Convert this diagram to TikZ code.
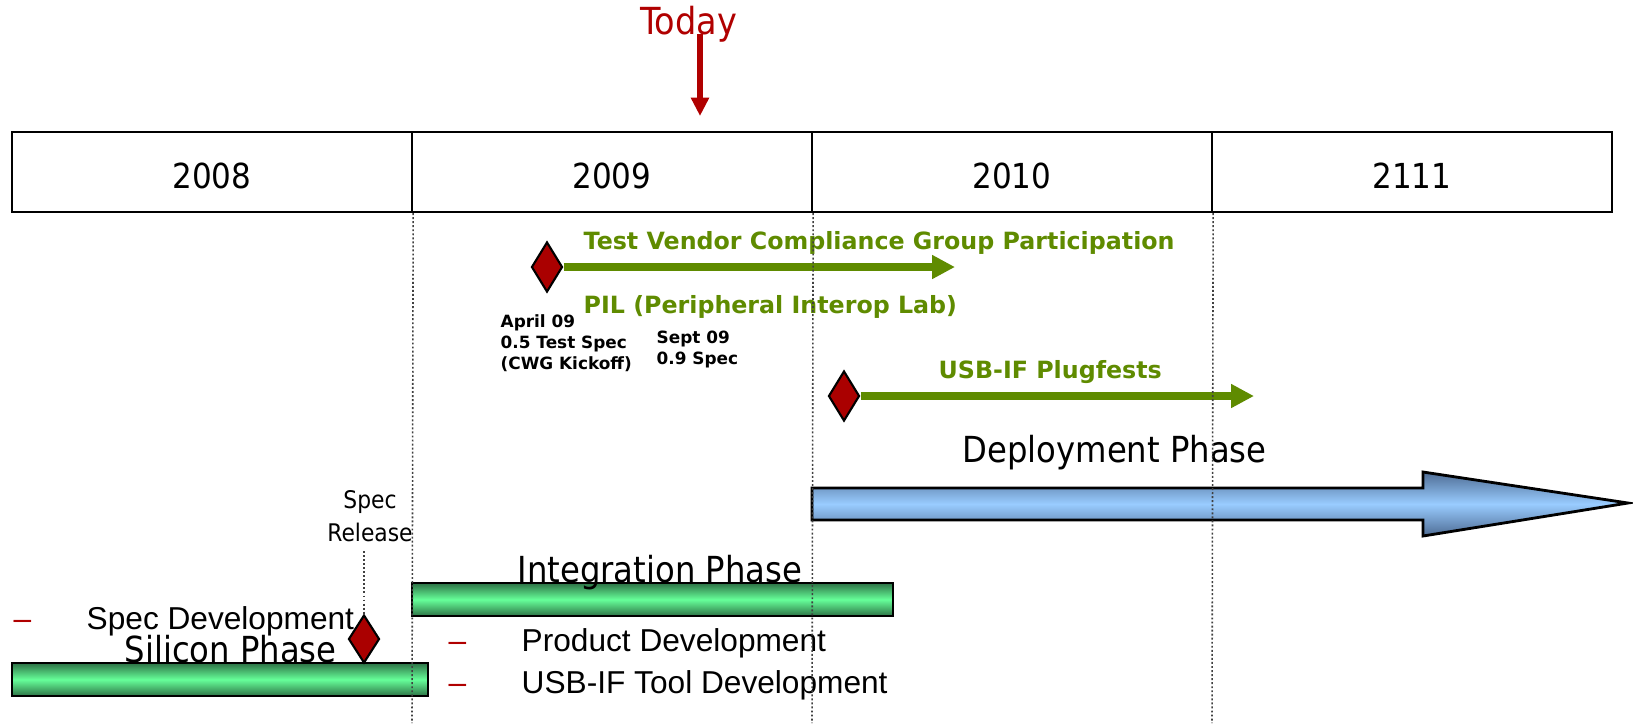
\documentclass[tikz,border=0pt]{standalone}
\usepackage{fontspec}
\setmainfont{DejaVu Sans}
\newfontfamily\tahomafont{DejaVu Sans Condensed}
\newfontfamily\arialfont{Liberation Sans}
\usepackage{xcolor}
\usepackage{tikz}
\usetikzlibrary{arrows.meta,shapes.geometric}
\definecolor{todayred}{RGB}{176,0,0}
\definecolor{milered}{RGB}{170,0,0}
\definecolor{trackgreen}{RGB}{95,139,0}
\definecolor{deploylight}{RGB}{153,204,255}
\definecolor{deploydark}{RGB}{78,108,148}
\definecolor{barlight}{RGB}{102,255,153}
\definecolor{bardark}{RGB}{45,115,70}

\begin{document}
\begin{tikzpicture}[x=0.01cm, y=-0.01cm,
  year/.style={draw=black, line width=0.6pt, minimum width=4cm, minimum height=0.8cm,
              inner sep=0pt, text height=0.32cm, text depth=0pt,
              font=\tahomafont\fontsize{9.8}{12}\selectfont},
  phase/.style={inner sep=0pt, anchor=base west, font=\tahomafont\fontsize{10.2}{12}\selectfont},
  bullet/.style={inner sep=0pt, anchor=base west, font=\arialfont\fontsize{9}{11}\selectfont},
  reddash/.style={bullet, text=todayred},
  tracklabel/.style={inner sep=0pt, anchor=base west, text=trackgreen,
              font=\bfseries\fontsize{6.75}{8}\selectfont},
  note/.style={inner sep=0pt, anchor=north west, align=left,
              font=\bfseries\fontsize{4.8}{6}\selectfont},
  milestone/.style={diamond, draw=black, fill=milered, line width=0.6pt, inner sep=0pt,
              minimum width=0.31cm, minimum height=0.5cm},
  track/.style={draw=trackgreen, line width=2.3pt, -{Triangle[length=6.5pt, width=6.4pt]}},
  phasebar/.style={draw=black, line width=0.65pt, inner sep=0pt, minimum height=0.33cm,
              top color=bardark, bottom color=bardark, middle color=barlight},
  gridline/.style={draw=black!75, line width=0.45pt, dash pattern=on 0.55pt off 0.6pt},
]
  \useasboundingbox (0,0) rectangle (1633,723);

  % Today marker
  \node[inner sep=0pt, anchor=base west, text=todayred,
        font=\tahomafont\fontsize{10.6}{12}\selectfont] (today) at (640,34) {Today};
  \coordinate (todaytip) at (700,116);
  \draw[draw=todayred, line width=1.7pt, -{Triangle[length=5.2pt, width=4.9pt]}]
    (today.base -| todaytip) -- (todaytip);

  % Years
  \node[year] (y08) at (212,172) {2008};
  \node[year] (y09) at (612,172) {2009};
  \node[year] (y10) at (1012,172) {2010};
  \node[year] (y11) at (1412,172) {2111};

  % Compliance group and PIL
  \node[milestone] (apr) at (547,267) {};
  \coordinate (cwgend) at (955,267);
  \draw[track] (apr.east) -- (cwgend);
  \node[tracklabel] (cwg) at (583,249) {Test Vendor Compliance Group Participation};
  \node[tracklabel] (pil) at (583,313) {PIL (Peripheral Interop Lab)};
  \node[note] (aprnote) at (500,314) {April 09\\0.5 Test Spec\\(CWG Kickoff)};
  \node[note] (sepnote) at (656,330) {Sept 09\\0.9 Spec};

  % Plugfests
  \node[milestone] (plug) at (844,396) {};
  \coordinate (plugend) at (1254,396);
  \draw[track] (plug.east) -- (plugend);
  \node[tracklabel] (plugfest) at (938,378) {USB-IF Plugfests};

  % Deployment phase
  \node[phase] (deploy) at (962,462) {Deployment Phase};
  \draw[black, line width=0.8pt, top color=deploydark, bottom color=deploydark,
        middle color=deploylight]
    (812,488) -- (1423,488) -- (1423,472) -- (1628,503) -- (1423,536)
    -- (1423,520) -- (812,520) -- cycle;

  % Integration phase
  \node[phasebar, minimum width=4.81cm] (intbar) at (652.5,599.5) {};
  \node[phase] (integ) at (517,582) {Integration Phase};
  \node[reddash] (dash2) at (448,651) {–};
  \node[bullet] (prod) at (521,651) {Product Development};
  \node[reddash] (dash3) at (448,693) {–};
  \node[bullet] (tool) at (521,693) {USB-IF Tool Development};

  % Silicon phase
  \node[phasebar, minimum width=4.16cm] (silbar) at (220,679.5) {};
  \node[reddash] (dash1) at (13,629) {–};
  \node[bullet] (specdev) at (86,629) {Spec Development};
  \node[phase] (silicon) at (124,662) {Silicon Phase};
  \node[milestone, minimum height=0.48cm] (specrel) at (364,639) {};
  \node[inner sep=0pt, anchor=north, align=center,
        font=\tahomafont\fontsize{6.9}{9.4}\selectfont] (relnote) at (370,490) {Spec\\Release};
  \coordinate (reltop) at (364,551);
  \draw[gridline] (reltop) -- (specrel.north);

  % Year boundaries
  \coordinate (g1) at (412,723);
  \coordinate (g2) at (812,723);
  \coordinate (g3) at (1212,723);
  \draw[gridline] (y08.south east) -- (g1);
  \draw[gridline] (y09.south east) -- (g2);
  \draw[gridline] (y10.south east) -- (g3);
\end{tikzpicture}
\end{document}
